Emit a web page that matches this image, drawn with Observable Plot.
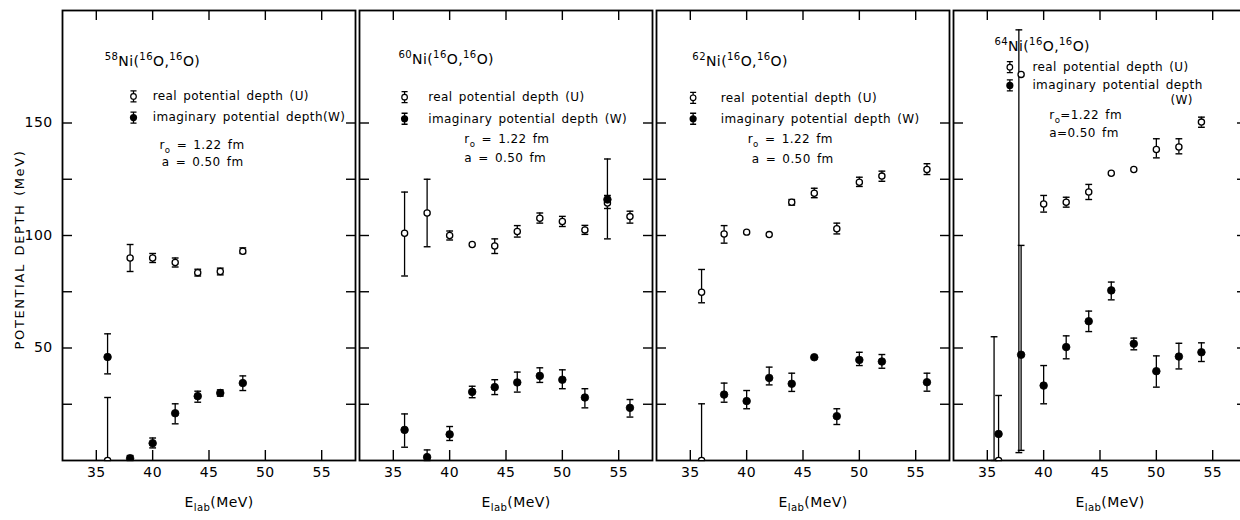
<!DOCTYPE html>
<html>
<head>
<meta charset="utf-8">
<script src="https://cdn.jsdelivr.net/npm/d3@7"></script>
<script src="https://cdn.jsdelivr.net/npm/@observablehq/plot@0.6"></script>
<style>
  html, body { margin: 0; padding: 0; background: #fff; overflow: hidden; }
  #chart svg { display: block; }
  #chart svg text { letter-spacing: 0.4px; word-spacing: 2px; }
</style>
</head>
<body>
<div id="chart"></div>
<script>
// ---------- categories / labels ----------
const panels = ["58Ni", "60Ni", "62Ni", "64Ni"];
const panelTitles = ["^{58}Ni(^{16}O,^{16}O)", "^{60}Ni(^{16}O,^{16}O)", "^{62}Ni(^{16}O,^{16}O)", "^{64}Ni(^{16}O,^{16}O)"];
const legendRealText = ["real potential depth (U)", "real potential depth (U)", "real potential depth (U)", "real potential depth (U)"];
const legendImagText = ["imaginary potential depth(W)", "imaginary potential depth (W)", "imaginary potential depth (W)", "imaginary potential depth"];
const legendImagTail = ["", "", "", "(W)"];
const radiusText = ["r_{o} = 1.22 fm", "r_{o} = 1.22 fm", "r_{o} = 1.22 fm", "r_{o}=1.22 fm"];
const diffuseText = ["a = 0.50 fm", "a = 0.50 fm", "a = 0.50 fm", "a=0.50 fm"];
const xTicks = [35, 40, 45, 50, 55];
const yTicks = [25, 50, 75, 100, 125, 150];
const yTickLabels = [50, 100, 150];
const xLabel = "E_{lab}(MeV)";
const yLabel = "POTENTIAL DEPTH (MeV)";

// ---------- 58Ni ----------
const uE58 = [36, 38, 40, 42, 44, 46, 48];
const u58 = [0, 90, 90, 88, 83.5, 84, 93];
const u58Lo = [0, 84, 88, 86, 82, 82.5, 92];
const u58Hi = [28, 96, 92, 90, 85, 85.5, 94.5];
const wE58 = [36, 38, 40, 42, 44, 46, 48];
const w58 = [46, 1, 7.7, 21, 28.6, 30, 34.4];
const w58Lo = [38.5, 0, 5.6, 16.3, 25.9, 28.6, 31.1];
const w58Hi = [56.3, 2.2, 10, 25.2, 30.8, 31.4, 37.6];

// ---------- 60Ni ----------
const uE60 = [36, 38, 40, 42, 44, 46, 48, 50, 52, 54, 56];
const u60 = [101, 110, 100, 96, 95.3, 101.8, 107.7, 106.2, 102.5, 114.4, 108.4];
const u60Lo = [82, 95, 98, null, 92, 99.3, 105.5, 104, 100.5, 112, 105.5];
const u60Hi = [119.3, 125, 102, null, 98.5, 104.4, 110, 108.5, 104.5, 117.8, 110.8];
const wE60 = [36, 38, 40, 42, 44, 46, 48, 50, 52, 54, 56];
const w60 = [13.6, 1.5, 11.6, 30.5, 32.6, 34.7, 37.6, 35.9, 28, 116, 23.4];
const w60Lo = [5.9, 0, 8.9, 27.9, 29.3, 30.4, 34.7, 31.9, 23.4, 98.5, 19.3];
const w60Hi = [20.7, 4.7, 15.1, 33, 35.9, 39.3, 41.2, 40.3, 31.9, 134, 27.1];

// ---------- 62Ni ----------
const uE62 = [36, 36, 38, 40, 42, 44, 46, 48, 50, 52, 56];
const u62 = [74.8, 0, 100.7, 101.5, 100.4, 114.8, 118.8, 103, 123.7, 126.4, 129.3];
const u62Lo = [70.1, 0, 96.6, null, null, 113.5, 116.8, 100.7, 121.8, 124.1, 127.1];
const u62Hi = [84.9, 25.2, 104.4, null, null, 116, 121, 105.5, 125.9, 128.6, 131.9];
const wE62 = [38, 40, 42, 44, 46, 48, 50, 52, 56];
const w62 = [29.3, 26.4, 36.7, 34.1, 45.9, 19.7, 44.7, 44, 34.8];
const w62Lo = [25.9, 23, 33.6, 30.7, null, 16, 42.2, 41, 30.8];
const w62Hi = [34.4, 31.1, 41.5, 38.8, null, 23, 48.1, 47.1, 38.8];

// ---------- 64Ni ----------
const uE64 = [36, 38, 40, 42, 44, 46, 48, 50, 52, 54];
const u64 = [0, 171.6, 114, 114.8, 119.3, 127.7, 129.3, 138.2, 139.3, 150.4];
const u64Lo = [0, 3.5, 110.4, 112.6, 116, null, null, 134.5, 136.3, 148.1];
const u64Hi = [55, 191.4, 117.8, 117, 122.7, null, null, 143, 143, 152.6];
const u64BarE = [35.6, 37.8, 40, 42, 44, 46, 48, 50, 52, 54];   // where the drawn bar sits
const wE64 = [36, 38, 40, 42, 44, 46, 48, 50, 52, 54];
const w64 = [11.8, 47, 33.3, 50.4, 61.9, 75.6, 51.9, 39.7, 46.2, 48.1];
const w64Lo = [0, 4.5, 25.2, 45.2, 57.3, 71.4, 49.2, 32.6, 40.7, 44];
const w64Hi = [28.9, 95.6, 42.2, 55.4, 66.4, 79.3, 54.4, 46.5, 52.1, 52.3];

// ---------- annotation placement (layout, in axis units) ----------
const notePlace = {
  title:   [[35.74, 177.3], [35.45, 178.2], [35.18, 177.3], [35.63, 184]],
  symX:    [38.3, 36.0, 35.25, 37.0],
  realY:   [161.8, 161.5, 161.2, 174.8],
  imagY:   [152.4, 151.9, 151.9, 166.7],
  textX:   [40.0, 38.1, 37.7, 39.0],
  tailAt:  [null, null, null, [51.25, 160.3]],
  radius:  [[40.6, 140.3], [41.3, 142.9], [40.1, 142.7], [40.5, 153.4]],
  diffuse: [[40.8, 132.6], [41.3, 134.5], [40.45, 133.8], [40.5, 145.4]]
};

// ---------- tables built from the arrays ----------
function series(panel, kind, E, v, lo, hi, barE) {
  return E.map((e, i) => ({panel, kind, x: e, xb: barE ? barE[i] : e, y: v[i], lo: lo[i], hi: hi[i]}));
}
const points = [
  ...series("58Ni", "U", uE58, u58, u58Lo, u58Hi),
  ...series("58Ni", "W", wE58, w58, w58Lo, w58Hi),
  ...series("60Ni", "U", uE60, u60, u60Lo, u60Hi),
  ...series("60Ni", "W", wE60, w60, w60Lo, w60Hi),
  ...series("62Ni", "U", uE62, u62, u62Lo, u62Hi),
  ...series("62Ni", "W", wE62, w62, w62Lo, w62Hi),
  ...series("64Ni", "U", uE64, u64, u64Lo, u64Hi, u64BarE),
  ...series("64Ni", "W", wE64, w64, w64Lo, w64Hi)
];
const bars = points.filter(d => d.lo != null && d.hi != null);
const realPts = points.filter(d => d.kind === "U");
const imagPts = points.filter(d => d.kind === "W");

const titles = panels.map((p, i) => ({panel: p, x: notePlace.title[i][0], y: notePlace.title[i][1], text: panelTitles[i]}));
const legendGlyphs = panels.flatMap((p, i) => [
  {panel: p, kind: "U", x: notePlace.symX[i], y: notePlace.realY[i]},
  {panel: p, kind: "W", x: notePlace.symX[i], y: notePlace.imagY[i]}
]);
const legendTexts = panels.flatMap((p, i) => {
  const rows = [
    {panel: p, x: notePlace.textX[i], y: notePlace.realY[i], text: legendRealText[i]},
    {panel: p, x: notePlace.textX[i], y: notePlace.imagY[i], text: legendImagText[i]},
    {panel: p, x: notePlace.radius[i][0], y: notePlace.radius[i][1], text: radiusText[i]},
    {panel: p, x: notePlace.diffuse[i][0], y: notePlace.diffuse[i][1], text: diffuseText[i]}
  ];
  if (legendImagTail[i]) rows.push({panel: p, x: notePlace.tailAt[i][0], y: notePlace.tailAt[i][1], text: legendImagTail[i]});
  return rows;
});

// ---------- symbols ----------
const capSymbol = {
  draw(ctx, size) { const w = Math.sqrt(size / Math.PI); ctx.moveTo(-w, 0); ctx.lineTo(w, 0); }
};
const glyphSymbol = {
  draw(ctx, size) {
    const h = Math.sqrt(size / Math.PI), c = h * 0.55;
    ctx.moveTo(0, -h); ctx.lineTo(0, h);
    ctx.moveTo(-c, -h); ctx.lineTo(c, -h);
    ctx.moveTo(-c, h); ctx.lineTo(c, h);
  }
};

const chart = Plot.plot({
  width: 1240,
  height: 520,
  marginTop: 10,
  marginBottom: 60,
  marginLeft: 60,
  marginRight: 1,
  // the last panel runs slightly past the picture's right edge, as in the original
  fx: {domain: panels, range: [60, 1247], paddingInner: 0.015, paddingOuter: 0, axis: null, label: null},
  x: {domain: [32, 58]},
  y: {domain: [0, 200]},
  style: {fontFamily: "DejaVu Sans, sans-serif", fontSize: "13px", color: "black", background: "white"},
  marks: [
    // inward ticks on all four sides of every panel
    Plot.axisX(xTicks, {anchor: "bottom", tickSize: -10, fill: "none", label: null, facetAnchor: null, strokeWidth: 1.4}),
    Plot.axisX(xTicks, {anchor: "top", tickSize: -9, fill: "none", label: null, facetAnchor: null, strokeWidth: 1.4}),
    Plot.axisY(yTicks, {anchor: "left", tickSize: -10, fill: "none", label: null, facetAnchor: null, strokeWidth: 1.4}),
    Plot.axisY(yTicks, {anchor: "right", tickSize: -10, fill: "none", label: null, facetAnchor: null, strokeWidth: 1.4}),
    // tick labels
    Plot.axisX(xTicks, {anchor: "bottom", tickSize: 0, tickPadding: 7, label: null, facetAnchor: null, fontSize: 14, tickFormat: d => String(d)}),
    Plot.axisY(yTickLabels, {anchor: "left", tickSize: 0, tickPadding: 10, label: null, fontSize: 14, tickFormat: d => String(d)}),
    Plot.frame({strokeWidth: 1.8}),
    // error bars
    Plot.ruleX(bars, {fx: "panel", x: "xb", y1: "lo", y2: "hi", stroke: "black", strokeWidth: 1.3, clip: true}),
    Plot.dot(bars, {fx: "panel", x: "xb", y: "hi", symbol: capSymbol, r: 3.4, stroke: "black", strokeWidth: 1.4, fill: "none"}),
    Plot.dot(bars, {fx: "panel", x: "xb", y: "lo", symbol: capSymbol, r: 3.4, stroke: "black", strokeWidth: 1.4, fill: "none"}),
    // points
    Plot.dot(realPts, {fx: "panel", x: "x", y: "y", r: 3.1, fill: "white", stroke: "black", strokeWidth: 1.3, clip: true}),
    Plot.dot(imagPts, {fx: "panel", x: "x", y: "y", r: 3.8, fill: "black", stroke: "black", strokeWidth: 0.8, clip: true}),
    // in-panel legend
    Plot.dot(legendGlyphs, {fx: "panel", x: "x", y: "y", symbol: glyphSymbol, r: 5.5, stroke: "black", strokeWidth: 1.3, fill: "none"}),
    Plot.dot(legendGlyphs.filter(d => d.kind === "U"), {fx: "panel", x: "x", y: "y", r: 2.8, fill: "white", stroke: "black", strokeWidth: 1.2}),
    Plot.dot(legendGlyphs.filter(d => d.kind === "W"), {fx: "panel", x: "x", y: "y", r: 3.6, fill: "black"}),
    Plot.text(titles, {fx: "panel", x: "x", y: "y", text: "text", textAnchor: "start", fontSize: 14}),
    Plot.text(legendTexts, {fx: "panel", x: "x", y: "y", text: "text", textAnchor: "start", fontSize: 12}),
    // axis titles
    Plot.text(panels, {fx: d => d, frameAnchor: "bottom", text: () => xLabel, dy: 46, dx: 10, fontSize: 14}),
    Plot.text(panels.slice(0, 1), {fx: d => d, frameAnchor: "left", textAnchor: "middle", rotate: -90, text: () => yLabel, dx: -43, dy: 14, fontSize: 13})
  ]
});

document.getElementById("chart").appendChild(chart);

// turn ^{..} and _{..} markup into super/subscript tspans
(function richText(svg) {
  svg.querySelectorAll("text").forEach(t => {
    const s = t.textContent;
    if (!/[\^_]\{/.test(s) || t.querySelector("tspan")) return;
    const f = parseFloat(getComputedStyle(t).fontSize) || 13;
    const parts = [];
    const re = /([\^_])\{([^}]*)\}/g;
    let last = 0, m;
    while ((m = re.exec(s))) {
      if (m.index > last) parts.push({txt: s.slice(last, m.index), mode: 0});
      parts.push({txt: m[2], mode: m[1] === "^" ? -0.45 : 0.32});
      last = re.lastIndex;
    }
    if (last < s.length) parts.push({txt: s.slice(last), mode: 0});
    t.textContent = "";
    let cur = 0;
    parts.forEach(p => {
      const ts = document.createElementNS("http://www.w3.org/2000/svg", "tspan");
      ts.textContent = p.txt;
      const target = p.mode * f;
      if (target !== cur) ts.setAttribute("dy", (target - cur).toFixed(2));
      if (p.mode !== 0) ts.setAttribute("font-size", (f * 0.72).toFixed(1));
      cur = target;
      t.appendChild(ts);
    });
  });
  svg.querySelectorAll("text").forEach(t => {
    if (t.textContent === yLabel) t.style.letterSpacing = "1.6px";
  });
})(chart);
</script>
</body>
</html>
